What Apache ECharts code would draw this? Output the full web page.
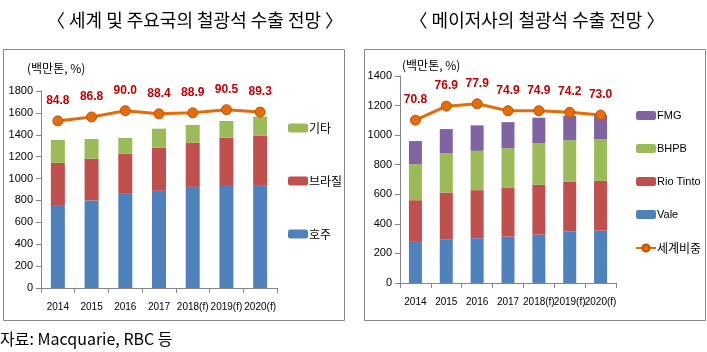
<!DOCTYPE html>
<html>
<head>
<meta charset="utf-8">
<script src="https://cdn.jsdelivr.net/npm/echarts@6/dist/echarts.min.js"></script>
<style>
  html, body { margin: 0; padding: 0; background: #fff; }
  #main { width: 707px; height: 352px; }
</style>
</head>
<body>
<div id="main"></div>
<script>
// 연도 (공통)
var years = ['2014', '2015', '2016', '2017', '2018(f)', '2019(f)', '2020(f)'];

// 왼쪽: 세계 및 주요국 (백만톤)
var ausData = [750, 800, 860, 888, 924, 940, 933];     // 호주
var braData = [393, 380, 368, 395, 402, 434, 460];     // 브라질
var etcData = [210, 182, 143, 173, 164, 152, 173];     // 기타
var worldShare = [84.8, 86.8, 90.0, 88.4, 88.9, 90.5, 89.3];  // 비중 %

// 오른쪽: 메이저사 (백만톤)
var valeData = [278, 296, 303, 314, 327, 348, 354];
var rioData = [282, 316, 325, 329, 337, 336, 337];
var bhpData = [244, 264, 266, 269, 282, 282, 282];
var fmgData = [156, 165, 172, 176, 172, 165, 163];
var majorShare = [70.8, 76.9, 77.9, 74.9, 74.9, 74.2, 73.0];  // 세계비중 %

var colors = ['#4f81bd', '#c0504d', '#9bbb59', '#8064a2', '#e46c0a'];
var numFont = "'Liberation Sans', Arial, sans-serif";
var krFont = "'Noto Sans CJK KR', sans-serif";

var chart = echarts.init(document.getElementById('main'));

function catAxis(gi) {
    return {
        type: 'category',
        gridIndex: gi,
        data: years,
        axisLine: { lineStyle: { color: '#868686' } },
        axisTick: { show: true, length: 5, lineStyle: { color: '#868686' } },
        axisLabel: { color: '#000', fontSize: 10, fontFamily: numFont, margin: 14, interval: 0 }
    };
}

function valAxis(gi, max) {
    return {
        type: 'value',
        gridIndex: gi,
        min: 0, max: max, interval: 200,
        axisLine: { show: true, lineStyle: { color: '#868686' } },
        axisTick: { show: true, length: 5, lineStyle: { color: '#868686' } },
        axisLabel: { color: '#000', fontSize: 11, fontFamily: numFont, margin: 8,
                     formatter: function (v) { return String(v); } },
        splitLine: { show: false }
    };
}

function hiddenAxis(gi, max) {
    return { type: 'value', gridIndex: gi, min: 0, max: max, show: false, splitLine: { show: false } };
}

function barSeries(name, data, color, xi, stack, w) {
    return {
        name: name, type: 'bar', stack: stack,
        xAxisIndex: xi, yAxisIndex: xi * 2,
        data: data, barWidth: w,
        itemStyle: { color: color },
        emphasis: { disabled: true }
    };
}

function lineSeries(name, data, xi) {
    return {
        name: name, type: 'line',
        xAxisIndex: xi, yAxisIndex: xi * 2 + 1,
        data: data,
        symbol: 'circle', symbolSize: 10,
        lineStyle: { color: colors[4], width: 3 },
        itemStyle: { color: colors[4], borderColor: '#b65708', borderWidth: 1 },
        label: {
            show: true, position: 'top', distance: 9,
            color: '#c00000', fontWeight: 'bold', fontSize: 12, fontFamily: numFont,
            formatter: function (p) { return p.value.toFixed(1); }
        },
        z: 5
    };
}

var option = {
    backgroundColor: '#fff',
    animation: false,
    title: [
        { text: '〈 세계 및 주요국의 철광석 수출 전망 〉', left: 190, top: 6, textAlign: 'center',
          textStyle: { fontFamily: krFont, fontSize: 18, fontWeight: 'normal', color: '#000' } },
        { text: '〈 메이저사의 철광석 수출 전망 〉', left: 532, top: 6, textAlign: 'center',
          textStyle: { fontFamily: krFont, fontSize: 18, fontWeight: 'normal', color: '#000' } }
    ],
    graphic: [
        { type: 'rect', shape: { x: 3.5, y: 49.5, width: 341, height: 271 },
          style: { fill: 'none', stroke: '#868686', lineWidth: 1 }, silent: true },
        { type: 'rect', shape: { x: 364.5, y: 49.5, width: 341, height: 271 },
          style: { fill: 'none', stroke: '#868686', lineWidth: 1 }, silent: true },
        { type: 'text', left: 27, top: 62,
          style: { text: '(백만톤, %)', font: '12px ' + krFont, fill: '#000' } },
        { type: 'text', left: 402, top: 59,
          style: { text: '(백만톤, %)', font: '12px ' + krFont, fill: '#000' } },
        { type: 'text', left: 0, top: 331,
          style: { text: '자료: Macquarie, RBC 등', font: '16px ' + krFont, fill: '#000' } }
    ],
    legend: [
        { orient: 'vertical', left: 283, top: 117, itemWidth: 20, itemHeight: 9, itemGap: 41,
          data: ['기타', '브라질', '호주'],
          textStyle: { fontFamily: krFont, fontSize: 12, color: '#000', padding: [0, 0, 0, -4] } },
        { orient: 'vertical', left: 630, top: 105, itemWidth: 20, itemHeight: 9, itemGap: 22,
          data: ['FMG', 'BHPB', 'Rio Tinto', 'Vale',
                 { name: '세계비중', textStyle: { fontFamily: krFont, fontSize: 12 } }],
          textStyle: { fontFamily: numFont, fontSize: 11, color: '#000', padding: [0, 0, 0, -4] } }
    ],
    grid: [
        { left: 41, right: 430, top: 91, bottom: 64 },
        { left: 400, right: 91, top: 76, bottom: 69 }
    ],
    xAxis: [catAxis(0), catAxis(1)],
    yAxis: [valAxis(0, 1800), hiddenAxis(0, 100), valAxis(1, 1400), hiddenAxis(1, 90)],
    series: [
        barSeries('호주', ausData, colors[0], 0, 'a', 14),
        barSeries('브라질', braData, colors[1], 0, 'a', 14),
        barSeries('기타', etcData, colors[2], 0, 'a', 14),
        lineSeries('비중', worldShare, 0),
        barSeries('Vale', valeData, colors[0], 1, 'b', 13),
        barSeries('Rio Tinto', rioData, colors[1], 1, 'b', 13),
        barSeries('BHPB', bhpData, colors[2], 1, 'b', 13),
        barSeries('FMG', fmgData, colors[3], 1, 'b', 13),
        lineSeries('세계비중', majorShare, 1)
    ]
};

chart.setOption(option);
</script>
</body>
</html>
